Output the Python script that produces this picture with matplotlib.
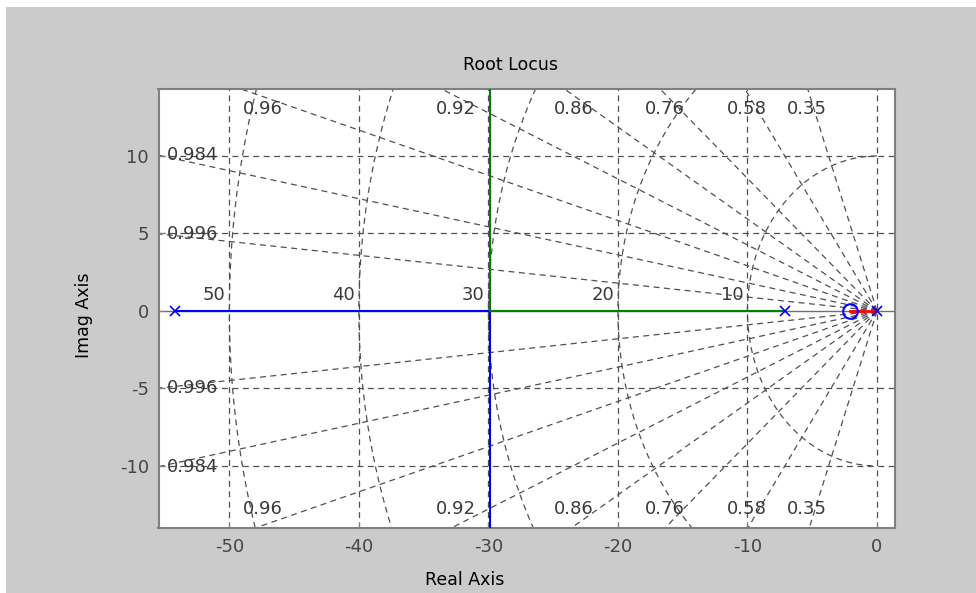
import numpy as np
import matplotlib
matplotlib.use('Agg')
import matplotlib.pyplot as plt
from matplotlib.patches import Rectangle

plt.rcParams['font.family'] = 'DejaVu Sans'
plt.rcParams['axes.unicode_minus'] = False
plt.rcParams['lines.scale_dashes'] = False

# root locus branches (real part, imag part)
blue_re = [-54.2, -29.9, -29.9]
blue_im = [0.0, 0.0, -20.0]
green_re = [-7.1, -29.9, -29.9]
green_im = [0.0, 0.0, 20.0]
red_re = [0.0, -2.1]
red_im = [0.0, 0.0]

poles = [-54.2, -7.1, 0.0]
zeros = [-2.1]

# sgrid values
zeta_edge = [0.35, 0.58, 0.76, 0.86, 0.92, 0.96]
zeta_side = [0.984, 0.996]
wn = [10, 20, 30, 40, 50]

xticks = [-50, -40, -30, -20, -10, 0]
yticks = [-10, -5, 5, 10]
xlim = (-55.47, 1.39)
ylim = (-14.02, 14.3)

W, H = 976, 593
fig = plt.figure(figsize=(W/100, H/100), dpi=100, facecolor='white')
fig.patches.append(Rectangle((6/W, 0), 1, 1 - 7/H, transform=fig.transFigure,
                             facecolor='#cbcbcb', edgecolor='none', zorder=-10))

ax = fig.add_axes([158.5/W, 1 - 528.3/H, (895 - 158.5)/W, (528.3 - 89.3)/H])
ax.set_facecolor('white')

gcol = '#505050'
dash = (0, (4.3, 3.2))
glw = 0.9
fs = 13
tcol = '#3a3a3a'

# plain grid
for x in xticks:
    ax.axvline(x, color=gcol, lw=glw, ls=dash, zorder=1)
for y in yticks:
    ax.axhline(y, color=gcol, lw=glw, ls=dash, zorder=1)
ax.axhline(0, color='#707070', lw=1.0, zorder=1)

# damping lines
R = 200.0
for z in zeta_edge + zeta_side:
    s = np.sqrt(1 - z**2)
    ax.plot([0, -R*z], [0, R*s], color=gcol, lw=glw, ls=dash, zorder=1)
    ax.plot([0, -R*z], [0, -R*s], color=gcol, lw=glw, ls=dash, zorder=1)

# natural frequency circles
th = np.linspace(np.pi/2, 3*np.pi/2, 400)
for w in wn:
    ax.plot(w*np.cos(th), w*np.sin(th), color=gcol, lw=glw, ls=dash, zorder=1)
    ax.text(-w - 0.3, 0.45, str(w), ha='right', va='bottom', fontsize=fs,
            color=tcol, zorder=4)

# damping labels
for z in zeta_edge:
    t = np.tan(np.arccos(z))
    xt = -(13.75 + 0.27*t)/t
    lab = ('%.2f' % z)
    ax.text(xt, 13.0, lab, ha='center', va='center', fontsize=fs,
            color=tcol, zorder=4)
    ax.text(xt, -12.8, lab, ha='center', va='center', fontsize=fs,
            color=tcol, zorder=4)
for z in zeta_side:
    t = np.tan(np.arccos(z))
    ye = -xlim[0]*t
    lab = ('%.3f' % z)
    ax.text(-54.8, ye, lab, ha='left', va='center', fontsize=fs,
            color=tcol, zorder=4)
    ax.text(-54.8, -ye, lab, ha='left', va='center', fontsize=fs,
            color=tcol, zorder=4)

# locus
ax.plot(blue_re, blue_im, color='#0000ff', lw=1.5, zorder=3)
ax.plot(green_re, green_im, color='#008000', lw=1.5, zorder=3)
ax.plot(red_re, red_im, color='#ff0000', lw=2.0, zorder=3)
ax.plot(poles, [0]*len(poles), ls='none', marker='x', ms=7, mew=1.2,
        color='#0000ff', zorder=5)
ax.plot(zeros, [0]*len(zeros), ls='none', marker='o', ms=10.5, mew=1.5,
        mfc='none', color='#0000ff', zorder=5)

ax.set_xlim(*xlim)
ax.set_ylim(*ylim)
ax.set_xticks(xticks)
ax.set_yticks([-10, -5, 0, 5, 10])
ax.tick_params(direction='in', length=4, color='#808080', labelsize=fs,
               labelcolor='#454545', pad=7)
for sp in ax.spines.values():
    sp.set_color('#808080')
    sp.set_linewidth(1.5)

fig.text(510/W, 1 - 65/H, 'Root Locus', ha='center', va='center', fontsize=12.5)
fig.text(465/W, 1 - 580/H, 'Real Axis', ha='center', va='center', fontsize=12.5)
fig.text(84/W, 1 - 315/H, 'Imag Axis', ha='center', va='center', fontsize=12.5,
         rotation=90)

fig.savefig('out.png', dpi=100, facecolor=fig.get_facecolor())
